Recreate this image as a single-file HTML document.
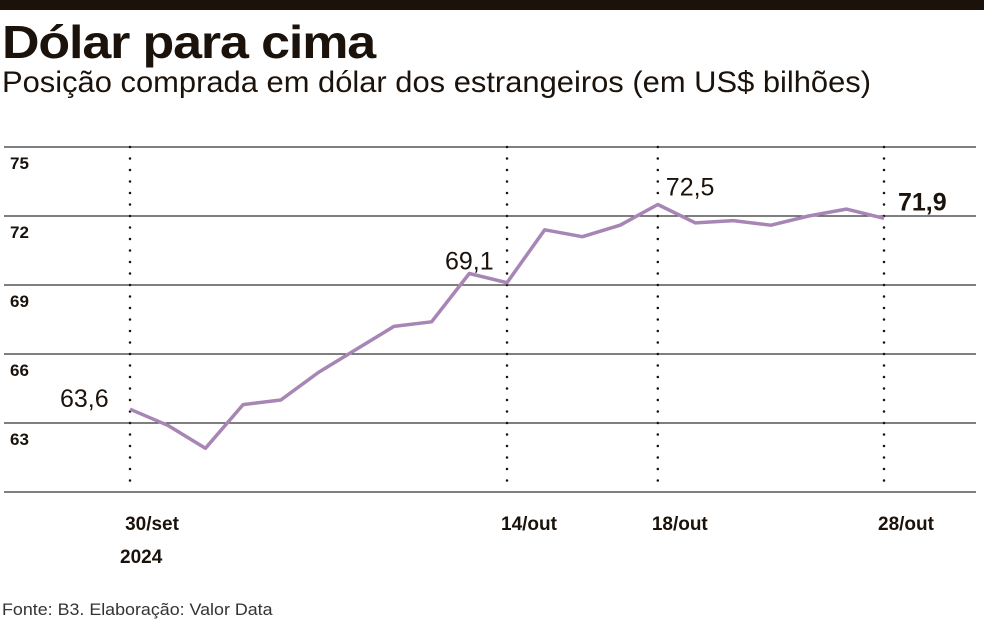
<!DOCTYPE html>
<html><head><meta charset="utf-8"><style>
body{margin:0;background:#fff;width:984px;height:623px;overflow:hidden;font-family:"Liberation Sans",sans-serif;color:#1a120b}
#bar{position:absolute;left:0;top:0;width:984px;height:10px;background:#1a120b}
#title{position:absolute;left:2px;top:15px;font-size:46px;font-weight:bold;letter-spacing:-1px;transform:scaleX(1.13);transform-origin:left}
#sub{position:absolute;left:2px;top:66px;font-size:30px;transform:scaleX(1.03);transform-origin:left}
#src{position:absolute;left:2px;top:600px;font-size:17px;color:#333;transform:scaleX(1.05);transform-origin:left}
svg{position:absolute;left:0;top:0}
</style></head><body>
<div id="bar"></div>
<div id="title">Dólar para cima</div>
<div id="sub">Posição comprada em dólar dos estrangeiros (em US$ bilhões)</div>
<div id="src">Fonte: B3. Elaboração: Valor Data</div>
<svg id="chart" width="984" height="623"></svg>
<script>
const yTicks=[75,72,69,66,63,60];
const values=[63.6,62.9,61.9,63.8,64.0,65.2,66.2,67.2,67.4,69.5,69.1,71.4,71.1,71.6,72.5,71.7,71.8,71.6,72.0,72.3,71.9];
const markIdx=[0,10,14,20];
const markDates=["30/set","14/out","18/out","28/out"];
const markLabels=["63,6","69,1","72,5","71,9"];
const svg=document.getElementById('chart');
const NS='http://www.w3.org/2000/svg';
const y=v=>147+(75-v)*23;
const x=i=>130+i*(884-130)/(values.length-1);
function mk(t,a){const e=document.createElementNS(NS,t);for(const k in a)e.setAttribute(k,a[k]);svg.appendChild(e);return e;}
yTicks.forEach(v=>{
 const l=mk('line',{x1:4,x2:976,y1:y(v),y2:y(v),stroke:'#333','stroke-width':1.2});
 
 
 if(v>60){const t=mk('text',{x:10,y:y(v)+22,'font-size':17,'font-weight':'bold',fill:'#1a120b'});t.textContent=v;
 
 }
});
markIdx.forEach((idx,k)=>{
 const l=mk('line',{x1:x(idx),x2:x(idx),y1:147,y2:492,stroke:'#1a120b','stroke-width':2.5,'stroke-dasharray':'0 11.5','stroke-linecap':'round'});
 
 
 const t=mk('text',{x:x(idx)+22,y:530,'font-size':19,'font-weight':'bold','text-anchor':'middle',fill:'#1a120b'});t.textContent=markDates[k];
 
 
});
const yr=mk('text',{x:120,y:563,'font-size':19,'font-weight':'bold',fill:'#1a120b'});yr.textContent='2024';


const p=mk('polyline',{points:values.map((v,i)=>x(i)+','+y(v)).join(' '),fill:'none',stroke:'#a786b5','stroke-width':3.5,'stroke-linejoin':'round'});


const lp=[[-70,-2,false],[-62,-13,false],[8,-9,false],[14,-8,true]];
markIdx.forEach((idx,k)=>{
 const o=lp[k];
 const t=mk('text',{x:x(idx)+o[0],y:y(values[idx])+o[1],'font-size':25,'font-weight':o[2]?'bold':'normal',fill:'#1a120b'});
 t.textContent=markLabels[k];
 
 
});
</script>
</body></html>
